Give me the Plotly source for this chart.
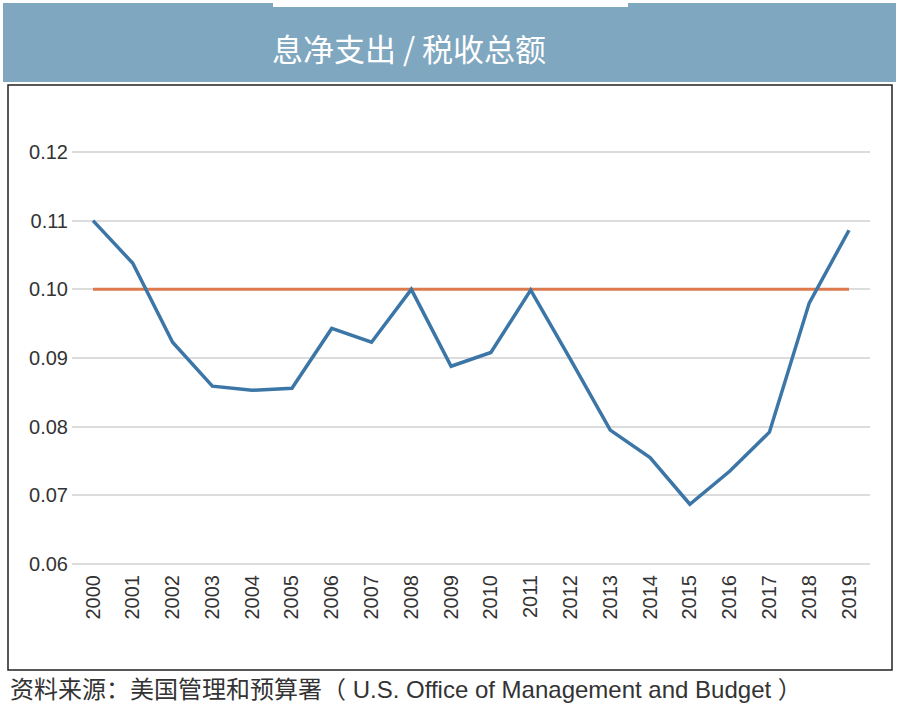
import plotly.graph_objects as go

years = list(range(2000, 2020))
year_labels = [str(y) for y in years]
ratio = [0.1100, 0.1038, 0.0923, 0.0859, 0.0853, 0.0856, 0.0943, 0.0923, 0.1000, 0.0888,
         0.0908, 0.0999, 0.0898, 0.0795, 0.0755, 0.0687, 0.0735, 0.0792, 0.0980, 0.1086]
benchmark = [0.10] * len(years)
y_ticks = [0.06, 0.07, 0.08, 0.09, 0.10, 0.11, 0.12]
y_tick_labels = ["0.06", "0.07", "0.08", "0.09", "0.10", "0.11", "0.12"]

W, H = 901, 712
L, R, T, B = 72, 870, 140, 566  # plot area in pixels

def px(x):
    return (x - L) / (R - L)

def py(y):
    return (B - y) / (B - T)

fig = go.Figure()
fig.add_trace(go.Scatter(x=years, y=benchmark, mode="lines",
                         line=dict(color="#dc7a4e", width=3), hoverinfo="skip"))
fig.add_trace(go.Scatter(x=years, y=ratio, mode="lines",
                         line=dict(color="#3b76a7", width=3.5)))

per_px_y = 0.01 / 68.67
per_px_x = 1 / 39.79
fig.update_layout(
    width=W, height=H,
    margin=dict(l=L, r=W - R, t=T, b=H - B),
    paper_bgcolor="white", plot_bgcolor="white",
    showlegend=False,
    font=dict(family="Liberation Sans, Arial, Noto Sans CJK SC", color="#333333"),
    xaxis=dict(range=[2000 - 21 * per_px_x, 2019 + 21 * per_px_x],
               tickvals=years, ticktext=year_labels, tickangle=-90,
               showgrid=False, zeroline=False, showline=False,
               ticklabelstandoff=4,
               tickfont=dict(size=20, color="#333333")),
    yaxis=dict(range=[0.06 - 2 * per_px_y, 0.12 + 12 * per_px_y],
               tickvals=y_ticks, ticktext=y_tick_labels,
               showgrid=True, gridcolor="#dcdcdc", gridwidth=2,
               zeroline=False, showline=False,
               ticklabelstandoff=3,
               tickfont=dict(size=20, color="#333333")),
    shapes=[
        dict(type="rect", xref="paper", yref="paper", layer="below",
             x0=px(3), x1=px(896), y0=py(3), y1=py(82),
             fillcolor="#80a7c0", line=dict(width=0)),
        dict(type="rect", xref="paper", yref="paper", layer="below",
             x0=px(273), x1=px(628), y0=py(0), y1=py(7),
             fillcolor="white", line=dict(width=0)),
        dict(type="rect", xref="paper", yref="paper", layer="below",
             x0=px(8), x1=px(892), y0=py(85), y1=py(670),
             fillcolor="rgba(0,0,0,0)", line=dict(color="#222222", width=1.5)),
    ],
    annotations=[
        dict(text="息净支出 / 税收总额", xref="paper", yref="paper",
             x=px(409), y=py(47), xanchor="center", yanchor="middle",
             showarrow=False,
             font=dict(family="Noto Sans CJK SC", size=31, color="white")),
        dict(text="资料来源：美国管理和预算署（ U.S. Office of Management and Budget ）",
             xref="paper", yref="paper", x=px(8), y=py(689),
             xanchor="left", yanchor="middle", showarrow=False,
             font=dict(family="Liberation Sans, Noto Sans CJK SC", size=24, color="#333333")),
    ],
)

fig.write_html("out.html", config={"displayModeBar": False},
               post_script="document.body.style.margin='0';")
